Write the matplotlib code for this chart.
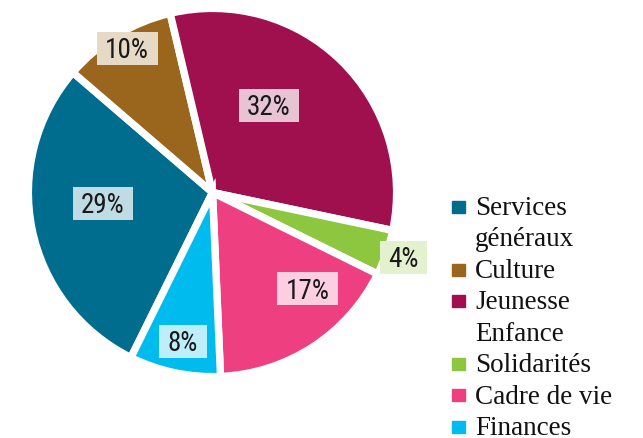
import numpy as np
import matplotlib.pyplot as plt
from matplotlib.colors import to_rgb
from matplotlib.patches import Rectangle
from matplotlib import font_manager

labels = ['Services\ngénéraux', 'Culture', 'Jeunesse\nEnfance', 'Solidarités', 'Cadre de vie', 'Finances']
shares = [29, 10, 32, 4, 17, 8]
colors = ['#006D8F', '#9A651C', '#A0104E', '#8DC63F', '#EE3F80', '#00BBEE']

# where the % boxes go: distance from centre, angle shift from wedge middle (deg)
lab_dist = [0.61, 0.93, 0.575, 1.117, 0.75, 0.84]
lab_shift = [-5.8, -0.7, 11.3, 0.4, 11.6, 0.7]

# narrow humanist sans for the % labels if there is one
names = {f.name for f in font_manager.fontManager.ttflist}
pct_font, pct_size = 'Open Sans', 17.5
for fam, size in [('Roboto Condensed', 19.5), ('Open Sans Condensed', 19.5),
                  ('Liberation Sans Narrow', 19)]:
    if fam in names:
        pct_font, pct_size = fam, size
        break

W, H = 643, 439
fig = plt.figure(figsize=(W / 100, H / 100), dpi=100)

cx, cy, R = 212.5, 193.5, 180.5
ax = fig.add_axes([(cx - R) / W, (H - cy - R) / H, 2 * R / W, 2 * R / H])
wedges, _ = ax.pie(shares, colors=colors, startangle=-116.3, counterclock=False,
                   radius=1.02, wedgeprops=dict(edgecolor='white', linewidth=5.3))
ax.set_xlim(-1, 1)
ax.set_ylim(-1, 1)
ax.axis('off')

def tint(c, a=0.25):
    c = np.array(to_rgb(c))
    return tuple(a * c + (1 - a))

# overlay in pixel coords (y down) for boxes and legend
lax = fig.add_axes([0, 0, 1, 1])
lax.set_xlim(0, W)
lax.set_ylim(H, 0)
lax.axis('off')

renderer = fig.canvas.get_renderer()
for w, v, d, s, c in zip(wedges, shares, lab_dist, lab_shift, colors):
    ang = np.deg2rad((w.theta1 + w.theta2) / 2 + s)
    px = cx + R * d * np.cos(ang)
    py = cy - R * d * np.sin(ang)
    t = lax.text(px, py + 9, f'{v}%', ha='center', va='baseline',
                 fontsize=pct_size, family=pct_font, color='#1a1a1a', zorder=5)
    tw = t.get_window_extent(renderer).width
    lax.add_patch(Rectangle((px - tw / 2 - 8.5, py - 16.5), tw + 17, 33,
                            fc=tint(c), ec='none', zorder=4))

base = 215
step = 31.5
for lab, c in zip(labels, colors):
    lax.add_patch(Rectangle((452, base - 13.5), 13, 12, color=c))
    for line in lab.split('\n'):
        lax.text(475, base, line, fontsize=19.5, family='Liberation Serif',
                 color='#111111', va='baseline', ha='left')
        base += step

fig.savefig('out.png', dpi=100)
